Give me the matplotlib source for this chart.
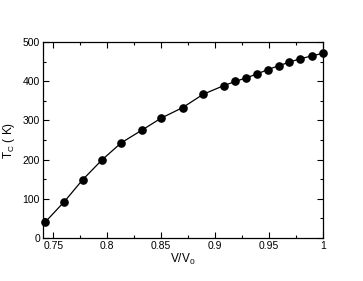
import matplotlib
matplotlib.use("Agg")
import matplotlib.pyplot as plt
from matplotlib.ticker import MultipleLocator, FixedFormatter, FixedLocator

plt.rcParams['font.family'] = ['Liberation Sans', 'DejaVu Sans']

v_ratio = [0.742, 0.760, 0.777, 0.795, 0.813, 0.832, 0.850, 0.870, 0.889,
           0.908, 0.919, 0.929, 0.939, 0.949, 0.959, 0.969, 0.979, 0.990, 1.0]
tc = [39, 92, 148, 199, 243, 275, 306, 333, 367,
      389, 400, 409, 419, 430, 440, 449, 458, 465, 472]

xticks = [0.75, 0.8, 0.85, 0.9, 0.95, 1.0]
xticklabels = ["0.75", "0.8", "0.85", "0.9", "0.95", "1"]
yticks = [0, 100, 200, 300, 400, 500]

fig = plt.figure(figsize=(3.63, 2.81), dpi=100)
ax = fig.add_axes([0.1176, 0.154, 0.889 - 0.1176, 0.8495 - 0.154])
ax.plot(v_ratio, tc, color='black', lw=0.9, marker='o', ms=5.2,
        markerfacecolor='black', markeredgecolor='black', clip_on=False, zorder=3)

ax.set_xlim(0.74, 1.0)
ax.set_ylim(0, 500)
ax.xaxis.set_major_locator(FixedLocator(xticks))
ax.xaxis.set_major_formatter(FixedFormatter(xticklabels))
ax.xaxis.set_minor_locator(MultipleLocator(0.025))
ax.yaxis.set_major_locator(FixedLocator(yticks))
ax.yaxis.set_minor_locator(MultipleLocator(50))
ax.tick_params(which='both', direction='in', top=True, right=True, labelsize=7.5, width=0.8, pad=2)
ax.tick_params(which='major', length=4)
ax.tick_params(which='minor', length=2)
for s in ax.spines.values():
    s.set_linewidth(0.9)

ax.set_xlabel(r"V/V$_\mathregular{0}$", fontsize=8.5, labelpad=1)
ax.set_ylabel(r"T$_\mathregular{C}$ ( K)", fontsize=8.5, labelpad=4)

fig.savefig("out.png", dpi=100)
